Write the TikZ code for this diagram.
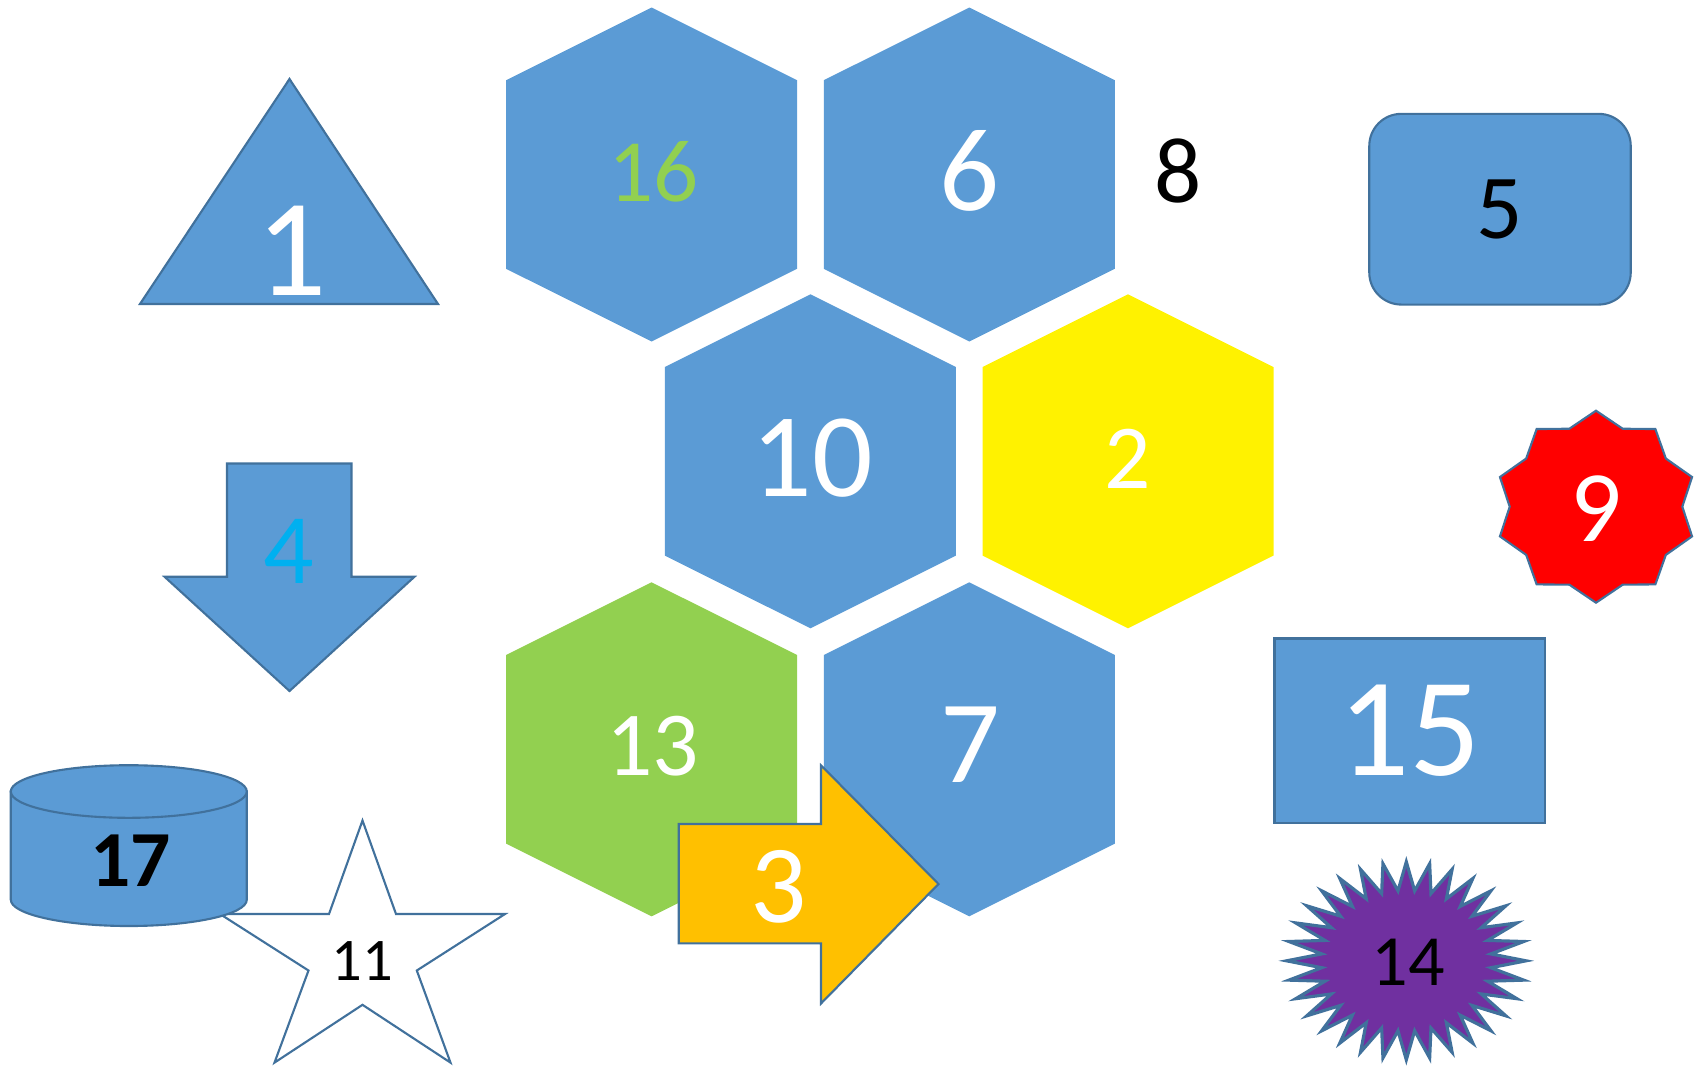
\documentclass[tikz,border=0pt]{standalone}
\usepackage{fontspec}
\setmainfont{Carlito}
\usepackage{tikz}
\usetikzlibrary{positioning}
\definecolor{shapeblue}{RGB}{91,155,213}
\definecolor{edgeblue}{RGB}{65,113,156}
\definecolor{leafgreen}{RGB}{146,208,80}
\definecolor{goldorange}{RGB}{255,192,0}
\definecolor{skycyan}{RGB}{0,176,240}
\definecolor{deeppurple}{RGB}{112,48,160}
% one cell of the honeycomb: centre x, centre y, fill
\newcommand{\hexcell}[3]{\fill[#3] (#1,#2-167) -- (#1+145.5,#2-94.3) -- (#1+145.5,#2+94.3) -- (#1,#2+167) -- (#1-145.5,#2+94.3) -- (#1-145.5,#2-94.3) -- cycle;}

\begin{document}
\begin{tikzpicture}[x=0.01cm,y=-0.01cm]
\tikzset{lbl/.style={inner sep=0pt,font=\fontsize{#1}{#1}\selectfont},
  shapeline/.style={draw=edgeblue,line width=0.6pt,line join=miter},
  box/.style={shapeline,fill=shapeblue,inner sep=0pt}}
\useasboundingbox (0,0) rectangle (1700,1066);
% honeycomb
\hexcell{651.6}{174.5}{shapeblue}
\hexcell{969.3}{174.5}{shapeblue}
\hexcell{810.4}{461.3}{shapeblue}
\hexcell{1128}{461.3}{yellow}
\hexcell{651.6}{749.3}{leafgreen}
\hexcell{969.3}{749.3}{shapeblue}
\node[lbl=25.3,text=leafgreen] (sixteen) at (653.5,172) {16};
\node[lbl=33.7,text=white] (six) at (969.8,171) {6};
\node[lbl=34,text=white] (ten) at (812,457.7) {10};
\node[lbl=26,text=white] (two) at (1128,458.5) {2};
\node[lbl=26,text=white] (thirteen) at (652.5,746) {13};
\node[lbl=33.5,text=white] (seven) at (970,744.5) {7};
% right arrow over the lower cells
\filldraw[shapeline,fill=goldorange] (678.7,824) -- (821,824) -- (821,765.3) -- (938.5,884) -- (821,1003.5) -- (821,943.3) -- (678.7,943.3) -- cycle;
\node[lbl=31.6,text=white] (three) at (779,886.5) {3};
% left column
\filldraw[shapeline,fill=shapeblue] (289.5,79) -- (438,304) -- (140,304) -- cycle;
\node[lbl=39.5,text=white] (one) at (291.5,251) {1};
\filldraw[shapeline,fill=shapeblue] (227,463.5) -- (351.5,463.5) -- (351.5,576.7) -- (414.5,576.7) -- (289.5,691) -- (164.5,576.7) -- (227,576.7) -- cycle;
\node[lbl=28.4,text=skycyan] (four) at (289,551) {4};
\filldraw[shapeline,fill=white] (362.5,820.5) -- (396,914) -- (505,914) -- (416.8,970.5) -- (450.5,1062.6) -- (362.5,1004.8) -- (274.5,1062.6) -- (308.5,970.5) -- (220,914) -- (329,914) -- cycle;
\node[lbl=17.2] (eleven) at (362,961) {11};
\filldraw[shapeline,fill=shapeblue] (10.8,791.5) -- (10.8,899.7) arc[start angle=180,end angle=0,x radius=118,y radius=26.3] -- (246.8,791.5) -- cycle;
\filldraw[shapeline,fill=shapeblue] (128.8,791.5) ellipse[x radius=118,y radius=26.3];
\node[lbl=22.6] (seventeen) at (130.5,860.5) {\bfseries 17};
% right column
\node[lbl=26.5] (eight) at (1178.5,171.5) {8};
\node[box,rounded corners=0.32cm,minimum width=2.613cm,minimum height=1.906cm,lbl=26] (five) at (1500,209.2) {5};
\begin{scope}[shift={(1596,506.7)}]
\filldraw[shapeline,fill=red] (90:101 and 96) \foreach \k in {0,...,9} { -- (108+36*\k:86.3 and 82) -- (126+36*\k:101 and 96)} -- cycle;
\end{scope}
\node[lbl=28.8,text=white] (nine) at (1596,508.7) {9};
\node[box,minimum width=2.705cm,minimum height=1.845cm,lbl=40,text=white] (fifteen) at (1409.8,730.8) {15};
\begin{scope}[shift={(1406.3,960.8)}]
\filldraw[shapeline,line width=0.9pt,fill=deeppurple] (90:119.7 and 99) \foreach \k in {0,...,31} { -- (95.625+11.25*\k:85 and 70.3) -- (101.25+11.25*\k:119.7 and 99)} -- cycle;
\end{scope}
\node[lbl=20.5] (fourteen) at (1408,962.5) {14};
\end{tikzpicture}
\end{document}
